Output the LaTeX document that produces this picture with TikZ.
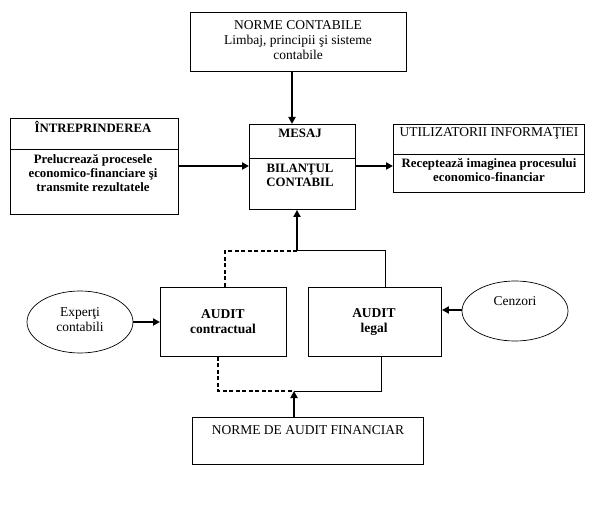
\documentclass[tikz,border=0pt]{standalone}
\usepackage{fontspec}
\setmainfont{Liberation Serif}
\usetikzlibrary{arrows.meta,shapes.geometric}
\begin{document}
\begin{tikzpicture}[x=1pt,y=-1pt,
  box/.style={draw,line width=0.9pt,anchor=north west,inner sep=0pt},
  ell/.style={draw,ellipse,line width=0.7pt,inner sep=0pt},
  arr/.style={line width=2pt,-{Triangle[length=7pt,width=7pt]}},
  ln/.style={line width=1pt},
  dsh/.style={line width=2pt,dash pattern=on 4pt off 2.5pt},
  ttl/.style={font=\fontsize{13.5}{15}\selectfont,align=center,inner sep=0pt},
  bt/.style={font=\bfseries\fontsize{12.8}{13.8}\selectfont,align=center,inner sep=0pt},
  ba/.style={font=\bfseries\fontsize{13.5}{15}\selectfont,align=center,inner sep=0pt}]
\useasboundingbox (0,0) rectangle (600,513);
% boxes
\node[box,minimum width=216pt,minimum height=59pt] (nc) at (190,12) {};
\node[box,minimum width=168pt,minimum height=96pt] (intr) at (10,118) {};
\node[box,minimum width=106pt,minimum height=85pt] (mes) at (249,124) {};
\node[box,minimum width=191pt,minimum height=68pt] (util) at (393,124) {};
\node[box,minimum width=126pt,minimum height=69pt] (ac) at (160,287) {};
\node[box,minimum width=133pt,minimum height=69pt] (al) at (308,287) {};
\node[box,minimum width=231pt,minimum height=47pt] (naf) at (192,417) {};
\node[ell,minimum width=106pt,minimum height=62pt] (exp) at (80,322) {};
\node[ell,minimum width=106pt,minimum height=60pt] (cen) at (515,311) {};
% dividers
\draw[line width=0.9pt] (intr.west |- 0,149) coordinate (d1a) -- (intr.east |- 0,149) coordinate (d1b);
\draw[line width=0.9pt] (mes.west |- 0,158) coordinate (d2a) -- (mes.east |- 0,158) coordinate (d2b);
\draw[line width=0.9pt] (util.west |- 0,154) coordinate (d3a) -- (util.east |- 0,154) coordinate (d3b);
% texts
\node[ttl] (nct) at (298,40) {NORME CONTABILE\\Limbaj, principii şi sisteme\\contabile};
\node[bt] (intrt) at (93,127) {ÎNTREPRINDEREA};
\node[bt] (intrb) at (93,173) {Prelucrează procesele\\economico-financiare şi\\transmite rezultatele};
\node[bt] (mest) at (300,133) {MESAJ};
\node[bt] (mesb) at (300,175) {BILANŢUL\\CONTABIL};
\node[ttl] (utilt) at (489,133) {UTILIZATORII INFORMAŢIEI};
\node[bt] (utilb) at (489,170) {Receptează imaginea procesului\\economico-financiar};
\node[ba] (act) at (223,322) {AUDIT\\contractual};
\node[ba] (alt) at (374,322) {AUDIT\\legal};
\node[ttl] (naft) at (308,430) {NORME DE AUDIT FINANCIAR};
\node[ttl] (expt) at (80,320) {Experţi\\contabili};
\node[ttl] (cent) at (515,301) {Cenzori};
% junctions
\coordinate (jt) at (297,251);
\coordinate (jb) at (294,391);
% arrows
\draw[arr] (nc.south -| 292,0) -- (mes.north -| 292,0);
\draw[arr] (intr.east |- 0,166) -- (mes.west |- 0,166);
\draw[arr] (mes.east |- 0,166) -- (util.west |- 0,166);
\draw[arr] (jt) -- (mes.south -| jt);
\draw[arr] (exp.east |- 0,322) -- (ac.west |- 0,322);
\draw[arr] (cen.west |- 0,310) -- (al.east |- 0,310);
\draw[arr] (naf.north -| jb) -- (jb);
% audit connections
\draw[ln] (jt) -- (385,251) -- (al.north -| 385,0);
\draw[dsh] (jt) -- (225,251) -- (ac.north -| 225,0);
\draw[ln] (al.south -| 381,0) -- (381,391) -- (jb);
\draw[dsh] (ac.south -| 218,0) -- (218,391) -- (jb);
\end{tikzpicture}
\end{document}
